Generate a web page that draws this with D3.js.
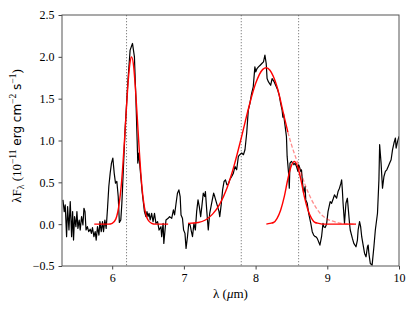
<!DOCTYPE html>
<meta charset="utf-8">
<style>
body { margin: 0; background: #fff; }
.tick text { font: 12px "Liberation Serif", serif; fill: #000; }
.axlab { font: 13px "Liberation Serif", serif; }
.sans { font-family: "DejaVu Sans", sans-serif; font-size: 12px; }
</style>
<svg width="415" height="312"></svg>
<script src="https://d3js.org/d3.v7.min.js"></script>
<script>

// observed spectrum
var wave = [5.313,5.331,5.345,5.364,5.378,5.397,5.415,5.434,5.448,5.461,5.475,5.494,5.508,5.522,5.540,5.554,5.573,5.592,5.606,5.621,5.635,5.654,5.672,5.694,5.710,5.725,5.745,5.763,5.777,5.795,5.815,5.829,5.847,5.865,5.879,5.898,5.916,5.935,5.953,5.972,5.990,6.009,6.028,6.046,6.065,6.084,6.100,6.120,6.135,6.180,6.220,6.250,6.283,6.310,6.330,6.348,6.357,6.370,6.395,6.420,6.450,6.470,6.485,6.500,6.515,6.530,6.550,6.570,6.590,6.610,6.633,6.654,6.680,6.690,6.710,6.720,6.750,6.780,6.800,6.830,6.854,6.870,6.891,6.910,6.930,6.948,6.960,6.980,6.996,7.015,7.030,7.050,7.068,7.087,7.105,7.120,7.140,7.160,7.178,7.197,7.215,7.234,7.250,7.270,7.290,7.300,7.320,7.340,7.360,7.378,7.396,7.415,7.430,7.450,7.470,7.490,7.500,7.520,7.540,7.560,7.580,7.600,7.620,7.640,7.667,7.690,7.713,7.736,7.760,7.780,7.806,7.830,7.852,7.876,7.898,7.920,7.944,7.967,7.990,8.003,8.020,8.040,8.064,8.087,8.110,8.130,8.148,8.160,8.180,8.210,8.230,8.260,8.280,8.310,8.330,8.350,8.370,8.380,8.390,8.400,8.430,8.440,8.460,8.470,8.480,8.500,8.520,8.535,8.550,8.570,8.590,8.600,8.610,8.630,8.640,8.655,8.670,8.690,8.700,8.720,8.740,8.750,8.770,8.790,8.810,8.830,8.840,8.860,8.897,8.920,8.940,8.950,8.970,8.990,9.010,9.040,9.060,9.085,9.100,9.130,9.150,9.170,9.190,9.200,9.210,9.220,9.240,9.260,9.280,9.290,9.310,9.320,9.350,9.370,9.400,9.420,9.430,9.450,9.465,9.480,9.500,9.520,9.540,9.560,9.570,9.580,9.600,9.625,9.650,9.670,9.700,9.720,9.730,9.750,9.770,9.790,9.810,9.830,9.850,9.870,9.890,9.910,9.930,9.950,9.960,9.980,10.000];
var flux = [0.29,0.15,0.23,-0.15,0.21,-0.07,0.27,-0.15,0.15,-0.19,0.09,-0.03,0.15,-0.05,0.05,-0.07,0.09,-0.01,0.19,0.15,-0.07,-0.03,-0.09,-0.06,-0.11,-0.04,-0.15,-0.09,-0.19,-0.03,-0.13,0.03,-0.09,0.03,-0.09,0.05,-0.05,0.19,0.45,0.61,0.73,0.79,0.61,0.49,0.51,0.33,0.02,0.05,0.25,1.13,1.72,2.08,2.16,2.00,1.52,1.00,0.73,0.85,0.61,0.37,0.15,0.09,0.15,0.09,0.13,0.05,0.13,0.03,0.13,0.01,0.03,-0.07,-0.03,-0.15,0.01,-0.23,0.05,0.07,0.09,0.07,0.17,0.11,0.25,0.37,0.41,0.33,0.11,0.07,-0.07,-0.11,-0.29,-0.15,0.01,-0.01,-0.09,-0.15,0.01,-0.07,0.15,0.29,0.21,0.09,0.21,0.37,0.33,0.39,0.15,-0.07,0.13,0.21,0.29,0.37,0.33,0.27,0.21,0.15,0.09,0.23,0.41,0.51,0.53,0.47,0.48,0.53,0.57,0.61,0.69,0.65,0.81,0.83,0.85,0.83,0.89,1.09,1.36,1.44,1.56,1.64,1.88,1.82,1.86,1.88,1.90,1.92,1.94,2.02,1.92,1.74,1.70,1.66,1.74,1.70,1.66,1.60,1.54,1.44,1.36,1.28,1.32,1.25,1.05,0.81,0.61,0.43,0.73,0.75,0.73,0.71,0.73,0.69,0.63,0.71,0.69,0.63,0.65,0.49,0.37,0.45,0.29,0.25,0.13,0.09,0.01,-0.09,-0.13,-0.15,-0.15,-0.17,-0.25,-0.15,0.01,-0.03,-0.04,0.00,0.15,0.27,0.25,0.31,0.35,0.31,0.39,0.43,0.49,0.53,0.41,0.25,0.01,0.25,0.31,0.21,0.01,-0.07,-0.17,-0.23,-0.27,-0.19,-0.07,0.03,-0.03,-0.15,-0.25,-0.35,-0.39,-0.27,-0.25,-0.35,-0.47,-0.49,-0.27,-0.07,0.13,0.53,0.95,0.73,0.43,0.57,0.63,0.65,0.69,0.73,0.77,0.89,0.97,1.03,0.91,0.99,1.05];

// fitted profiles
var fit1X = [5.75,5.90,5.95,6.00,6.05,6.10,6.125,6.15,6.175,6.20,6.225,6.25,6.27,6.30,6.325,6.35,6.375,6.40,6.425,6.45,6.475,6.50,6.55,6.60,6.78];
var fit1Y = [0.00,0.00,0.00,0.01,0.06,0.26,0.45,0.72,1.05,1.41,1.73,1.94,2.00,1.88,1.61,1.27,0.92,0.60,0.36,0.20,0.10,0.05,0.01,0.00,0.00];

var fit2X = [7.06,7.20,7.30,7.40,7.50,7.60,7.70,7.80,7.90,8.00,8.10,8.15,8.20,8.30,8.40,8.45];
var fit2Y = [0.01,0.02,0.05,0.12,0.24,0.43,0.70,1.03,1.38,1.68,1.85,1.87,1.84,1.64,1.28,1.10];

var fit2TailX = [8.45,8.50,8.60,8.70,8.80,8.90,9.00,9.10,9.20,9.40];
var fit2TailY = [1.10,0.95,0.70,0.45,0.26,0.13,0.06,0.03,0.01,0.00];

var fit3X = [8.15,8.20,8.25,8.30,8.35,8.40,8.45,8.50,8.54,8.58,8.63,8.68,8.73,8.78,8.83,8.88,8.95,9.40];
var fit3Y = [0.00,0.01,0.02,0.07,0.17,0.33,0.54,0.70,0.75,0.70,0.54,0.33,0.17,0.07,0.02,0.01,0.00,0.00];

var markers = [6.2, 7.8, 8.6];
var xTicks = [6, 7, 8, 9, 10];
var yTicks = [-0.5, 0, 0.5, 1, 1.5, 2, 2.5];

var svg = d3.select("svg"),
    margin = {top: 15, right: 16, bottom: 46, left: 62},
    width = +svg.attr("width") - margin.left - margin.right,
    height = +svg.attr("height") - margin.top - margin.bottom,
    g = svg.append("g").attr("transform", "translate(" + margin.left + "," + margin.top + ")");

var x = d3.scaleLinear().domain([5.3, 10]).range([0, width]);
var y = d3.scaleLinear().domain([-0.5, 2.5]).range([height, 0]);

g.append("defs").append("clipPath").attr("id", "clip")
  .append("rect").attr("width", width).attr("height", height);

var plot = g.append("g").attr("clip-path", "url(#clip)");

plot.selectAll(".marker")
  .data(markers)
  .enter().append("line")
    .attr("x1", function(d) { return x(d); })
    .attr("x2", function(d) { return x(d); })
    .attr("y1", 0)
    .attr("y2", height)
    .attr("stroke", "#777")
    .attr("stroke-width", 0.9)
    .attr("stroke-dasharray", "1.3,1.7");

var line = d3.line()
    .x(function(d) { return x(d[0]); })
    .y(function(d) { return y(d[1]); });

var smooth = d3.line()
    .curve(d3.curveMonotoneX)
    .x(function(d) { return x(d[0]); })
    .y(function(d) { return y(d[1]); });

plot.append("path")
  .datum(d3.zip(wave, flux))
  .attr("fill", "none")
  .attr("stroke", "#000")
  .attr("stroke-width", 1.2)
  .attr("stroke-linejoin", "round")
  .attr("d", line);

plot.append("path")
  .datum(d3.zip(fit2TailX, fit2TailY))
  .attr("fill", "none")
  .attr("stroke", "#f00")
  .attr("stroke-opacity", 0.45)
  .attr("stroke-width", 1.3)
  .attr("stroke-dasharray", "4,2")
  .attr("d", smooth);

[[fit1X, fit1Y], [fit2X, fit2Y], [fit3X, fit3Y]].forEach(function(f) {
  plot.append("path")
    .datum(d3.zip(f[0], f[1]))
    .attr("fill", "none")
    .attr("stroke", "#f00")
    .attr("stroke-width", 1.4)
    .attr("d", smooth);
});

// axes
var xAxis = g.append("g")
    .attr("transform", "translate(0," + height + ")")
    .call(d3.axisBottom(x).tickValues(xTicks).tickSize(3.5).tickPadding(4)
      .tickFormat(d3.format("d")));

var yAxis = g.append("g")
    .call(d3.axisLeft(y).tickValues(yTicks).tickSize(3.5).tickPadding(4)
      .tickFormat(function(d) { return d3.format(".1f")(d).replace("-", "\u2212"); }));

[xAxis, yAxis].forEach(function(a) {
  a.select(".domain").remove();
  a.selectAll(".tick line").attr("stroke", "#444");
});

g.append("rect")
  .attr("width", width)
  .attr("height", height)
  .attr("fill", "none")
  .attr("stroke", "#555")
  .attr("stroke-width", 1);

// labels
var xl = svg.append("text")
  .attr("class", "axlab")
  .attr("x", margin.left + width / 2)
  .attr("y", 298)
  .attr("text-anchor", "middle");
xl.append("tspan").text("\u03bb (");
xl.append("tspan").attr("font-style", "italic").text("\u03bc");
xl.append("tspan").text("m)");

var yl = svg.append("text")
  .attr("class", "axlab")
  .attr("transform", "translate(21,136) rotate(-90)")
  .attr("text-anchor", "middle");
yl.append("tspan").text("\u03bbF");
yl.append("tspan").attr("font-size", "9.5px").attr("dy", 3).text("\u03bb");
yl.append("tspan").attr("dy", -3).text(" (10");
yl.append("tspan").attr("font-size", "9.5px").attr("dy", -5).text("\u221211");
yl.append("tspan").attr("class", "sans").attr("dy", 5).text(" erg cm");
yl.append("tspan").attr("font-size", "9.5px").attr("dy", -5).text("\u22122");
yl.append("tspan").attr("class", "sans").attr("dy", 5).text(" s");
yl.append("tspan").attr("font-size", "9.5px").attr("dy", -5).text("\u22121");
yl.append("tspan").attr("dy", 5).text(")");

</script>
